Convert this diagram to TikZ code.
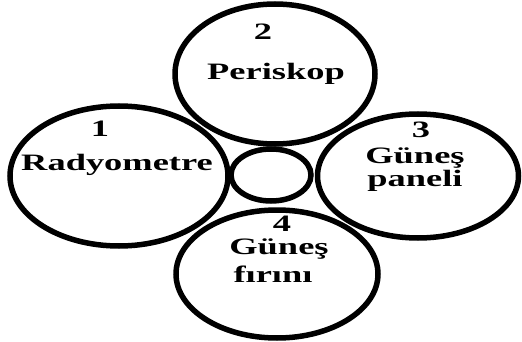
\documentclass[tikz,border=0pt]{standalone}
\usepackage{fontspec}
\setmainfont{Liberation Serif}
\begin{document}
\begin{tikzpicture}[x=1pt,y=1pt,
  ring/.style={draw=black, line width=5.5pt},
  lbl/.style={anchor=base, inner sep=0pt, font=\fontsize{23.5}{26}\selectfont\bfseries, xscale=1.55, transform shape}]
\useasboundingbox (0,0) rectangle (522,-342);
% circles
\draw[ring] (275,-74) ellipse [x radius=100, y radius=70];
\draw[ring] (119,-176) ellipse [x radius=109, y radius=70];
\draw[ring] (418,-176) ellipse [x radius=100.5, y radius=62];
\draw[ring] (277,-274) ellipse [x radius=101, y radius=64];
\draw[ring] (271,-175) ellipse [x radius=40, y radius=26];
% labels
\node[lbl] (n2) at (263,-40) {2};
\node[lbl] (t2) at (276,-80) {Periskop};
\node[lbl] (n1) at (100,-137) {1};
\node[lbl] (t1) at (117,-170) {Radyometre};
\node[lbl] (n3) at (421,-138) {3};
\node[lbl] (t3a) at (415,-164) {Güneş};
\node[lbl] (t3b) at (415,-186) {paneli};
\node[lbl] (n4) at (282,-231) {4};
\node[lbl] (t4a) at (279,-254) {Güneş};
\node[lbl] (t4b) at (273,-282) {fırını};
\end{tikzpicture}
\end{document}
